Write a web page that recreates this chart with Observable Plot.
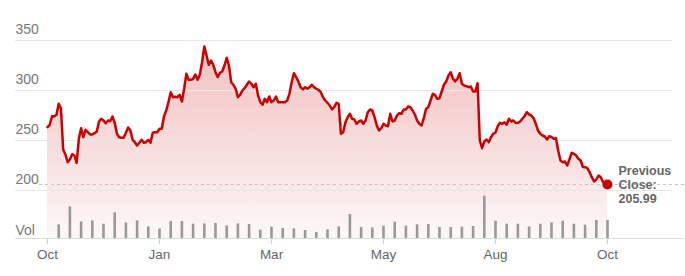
<!DOCTYPE html>
<html><head><meta charset="utf-8">
<script src="https://cdn.jsdelivr.net/npm/d3@7"></script>
<script src="https://cdn.jsdelivr.net/npm/@observablehq/plot@0.6"></script>
<style>
html,body{margin:0;padding:0;background:#fff;}
#chart{position:relative;width:685px;height:276px;}
#chart svg{position:absolute;left:0;top:0;}
</style></head><body><div id="chart"></div>
<script>
// Daily closing prices, trading day 0 .. 250
const closes = [
263.3,265.7,274.3,274,275.7,286.7,282,241,236,228.3,
231,236.3,235,227.7,251.7,262.3,253.3,260.7,258.3,256,
256,257.3,259,269,271.7,270,267.3,270,269.3,274,
267.7,256.7,253.3,252.7,252.7,257.7,263,260,250.7,248.3,
245,247.7,250.7,247.7,248.3,250.7,247.7,257.7,258.3,258.3,
261.7,261.7,274,280,288.3,298.3,293.3,293.7,293.3,295.7,
289,301.7,316.7,310.7,310.7,311.7,316,310.7,315.7,328.3,
344,335,325.7,330,325.7,318.3,313.3,317.7,319,325,
332.7,325,308.3,305.7,301.7,293.3,295.7,300,302.3,305.7,
309,306.7,303.3,306.7,295,288.3,285.7,291.7,288.3,294,
288.3,290,294,288.3,288.3,288.3,288.3,290,296.7,308.3,
317.3,313.3,309,303.3,301,303.3,301.7,303.3,305.7,303.3,
301.7,300.7,298.3,293.3,290,287.7,285,281,283.3,287.7,
286.7,256.7,258.3,268.3,273.3,276.7,271.7,271,266.7,269,
270,266.7,270,278.3,281,280,273.3,265,260,262.3,
266.7,265,264.3,276.7,269,270,275,277.3,276.7,281,
281,284,283.3,280,276,270,266.7,265,272.3,281.7,
283.3,290,296.7,295.7,291.7,292.3,299,306,309,315,
318.3,311.7,309,311.7,317.3,306.7,305,304.3,303.3,304,
299,299,307.3,250,242.3,249,251,248.3,253.3,256.7,
258,264.3,267.7,266.7,268.3,265.7,271.7,269,270,267.5,
267.7,269,271.7,274.3,278.3,276,275,272.3,266.7,260,
256.7,255,254,251,254.3,253.5,251.7,252.3,240,230,
228.3,229,225,231,237.7,236.7,235,231.7,230,223.5,
223.3,222.3,218.3,213.3,209,211,215,213.3,208.5,205.7,
205.99
];
// Weekly volume (millions), bar at trading day
const volDays = [5,10,15,20,25,30,35,40,45,50,55,60,65,70,75,80,85,90,95,100,105,110,115,120,125,
130,135,140,145,150,155,160,165,170,175,180,185,190,195,200,205,210,215,220,225,230,235,240,245,250];
const volumes = [13.6,31.6,16.6,17.6,14.3,25.6,15.6,17.6,11.6,9.6,17,17,14.3,14.6,15,12.6,14.6,14,8.3,11.3,10,9.6,8,6,8.7,
11.6,24,11,10.6,12.3,16.3,12.3,13.6,14,11,11,11.3,12,42.3,17.3,14.3,14.3,11.6,14.3,15.6,17.3,14.3,13.3,18,18];
const xTickDays = [0,50,100,150,200,250];
const xTickLabels = ["Oct","Jan","Mar","May","Aug","Oct"];
const yTicks = [200,250,300,350];
const yDomain = [152,350];
const volDomain = [0,48];
const prevClose = 205.99;
const prevLabel = ["Previous","Close:","205.99"];

const data = closes.map((c,i)=>({day:i, close:c}));
const vols = volumes.map((v,i)=>({day:volDays[i], vol:v}));
const last = data[data.length-1];
const FONT = "'Liberation Sans', Arial, Helvetica, sans-serif";
const W = 685, H = 276;
const xScale = {domain:[0,250], range:[47,607]};

const price = Plot.plot({
  width:W, height:H, marginLeft:15, marginRight:13, marginTop:40, marginBottom:38,
  style:{fontFamily:FONT, background:"transparent", overflow:"visible"},
  x:xScale,
  y:{domain:yDomain, axis:null},
  marks:[
    Plot.areaY(data,{x:"day", y1:yDomain[0], y2:"close", fill:"url(#pcgrad)", curve:"linear"}),
    Plot.ruleY(yTicks,{stroke:"#e6e6e6", strokeWidth:1}),
    Plot.ruleY([yDomain[0]],{stroke:"#dcdcdc", insetRight:-12}),
    Plot.ruleY([prevClose],{stroke:"#c4c4c4", strokeDasharray:"3,3", insetLeft:24, insetRight:-12}),
    Plot.lineY(data,{x:"day", y:"close", stroke:"#cc0000", strokeWidth:2.5, strokeLinejoin:"round"}),
    Plot.dot([last],{x:"day", y:"close", r:5, fill:"#cc0000", stroke:null}),
    Plot.text(yTicks,{y:d=>d, text:d=>String(d), frameAnchor:"left", textAnchor:"start", dy:-11, fill:"#777", fontSize:14}),
    Plot.text(["Vol"],{frameAnchor:"bottom-left", text:d=>d, textAnchor:"start", dy:-4, fill:"#777", fontSize:14}),
    Plot.text([last],{x:"day", y:"close", text:()=>prevLabel.join("\n"), dx:11, textAnchor:"start", lineAnchor:"middle", lineHeight:1.13, fontWeight:"bold", fontSize:12.5, fill:"#666"}),
    Plot.axisX(xTickDays,{tickFormat:d=>xTickLabels[xTickDays.indexOf(d)], tickSize:6, tickPadding:5, fontSize:13.5, stroke:"#cfcfcf", fill:"#666", label:null})
  ]
});

const grad = d3.select(price).insert("defs",":first-child")
  .append("linearGradient").attr("id","pcgrad").attr("x1",0).attr("y1",0).attr("x2",0).attr("y2",1);
grad.append("stop").attr("offset",0).attr("stop-color","#cc0000").attr("stop-opacity",0.25);
grad.append("stop").attr("offset",1).attr("stop-color","#cc0000").attr("stop-opacity",0.03);

const volume = Plot.plot({
  width:W, height:H, marginLeft:15, marginRight:13, marginTop:190, marginBottom:38,
  style:{fontFamily:FONT, background:"transparent", overflow:"visible"},
  x:{...xScale, axis:null},
  y:{domain:volDomain, axis:null},
  marks:[
    Plot.ruleX(vols,{x:"day", y1:0, y2:"vol", stroke:"#999", strokeWidth:2.6})
  ]
});

const el = document.getElementById("chart");
el.appendChild(price);
el.appendChild(volume);
</script>
</body></html>
